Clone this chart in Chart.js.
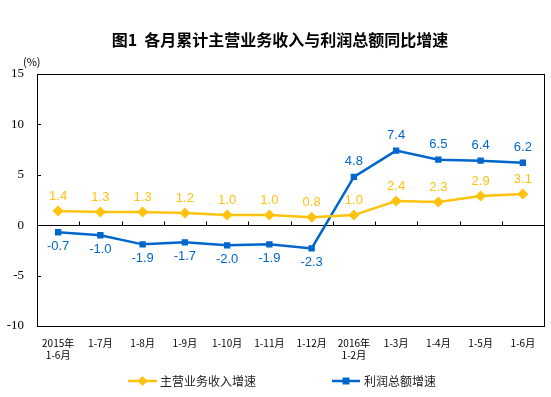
<!DOCTYPE html>
<html>
<head>
<meta charset="utf-8">
<script src="https://cdn.jsdelivr.net/npm/chart.js@4/dist/chart.umd.min.js"></script>
<style>
html,body{margin:0;padding:0;background:#fff;}
canvas{display:block;}
</style>
</head>
<body>
<canvas id="c" width="551" height="397"></canvas>
<script>
const chartTitle = '图1  各月累计主营业务收入与利润总额同比增速';
const unitLabel = '(%)';
const categories = [['2015年','1-6月'],'1-7月','1-8月','1-9月','1-10月','1-11月','1-12月',['2016年','1-2月'],'1-3月','1-4月','1-5月','1-6月'];
const seriesNames = ['主营业务收入增速','利润总额增速'];
const revenueGrowth = [1.4,1.3,1.3,1.2,1.0,1.0,0.8,1.0,2.4,2.3,2.9,3.1];
const profitGrowth = [-0.7,-1.0,-1.9,-1.7,-2.0,-1.9,-2.3,4.8,7.4,6.5,6.4,6.2];
const yTicks = [-10,-5,0,5,10,15];

const YELLOW = '#FFC20E';
const BLUE = '#0066CC';
const CJK = '"Noto Sans CJK SC", "Noto Sans", sans-serif';

const framePlugin = {
  id: 'frame',
  beforeDatasetsDraw(chart) {
    const {ctx, chartArea: a, scales} = chart;
    ctx.save();
    ctx.strokeStyle = '#000';
    ctx.lineWidth = 1;
    ctx.strokeRect(Math.round(a.left) + 0.5, Math.round(a.top) + 0.5, Math.round(a.right - a.left), Math.round(a.bottom - a.top));
    const y0 = Math.round(scales.y.getPixelForValue(0)) + 0.5;
    ctx.beginPath();
    ctx.moveTo(a.left, y0); ctx.lineTo(a.right, y0);
    const n = categories.length;
    for (let i = 1; i < n; i++) {
      const x = Math.round((scales.x.getPixelForValue(i - 1) + scales.x.getPixelForValue(i)) / 2) + 0.5;
      ctx.moveTo(x, y0); ctx.lineTo(x, y0 - 4);
    }
    yTicks.forEach(v => {
      const y = Math.round(scales.y.getPixelForValue(v)) + 0.5;
      ctx.moveTo(a.left, y); ctx.lineTo(a.left + 4, y);
    });
    ctx.stroke();
    ctx.restore();
  },
  afterDatasetsDraw(chart) {
    const {ctx} = chart;
    ctx.save();
    ctx.font = '13px "Liberation Sans", Arial, sans-serif';
    ctx.textAlign = 'center';
    ctx.textBaseline = 'middle';
    chart.data.datasets.forEach((ds, di) => {
      const meta = chart.getDatasetMeta(di);
      ctx.fillStyle = ds.borderColor;
      meta.data.forEach((pt, i) => {
        const v = ds.data[i];
        const off = v < 0 ? 14 : -15;
        ctx.fillText(v.toFixed(1), pt.x, pt.y + off);
      });
    });
    ctx.restore();
  },
  afterDraw(chart) {
    const {ctx} = chart;
    ctx.save();
    ctx.fillStyle = '#000';
    ctx.font = 'bold 16px ' + CJK;
    ctx.textAlign = 'center';
    ctx.textBaseline = 'middle';
    ctx.fillText(chartTitle, 280, 40);
    ctx.font = '11px ' + CJK;
    ctx.textAlign = 'left';
    ctx.fillText(unitLabel, 23, 62);
    const items = [
      {x0: 128, x1: 157, tx: 160, color: YELLOW, shape: 'diamond', name: seriesNames[0]},
      {x0: 332, x1: 360, tx: 364, color: BLUE, shape: 'square', name: seriesNames[1]}
    ];
    const ly = 381;
    ctx.font = '12px ' + CJK;
    ctx.textBaseline = 'middle';
    items.forEach(it => {
      ctx.strokeStyle = it.color;
      ctx.fillStyle = it.color;
      ctx.lineWidth = 2.5;
      ctx.beginPath(); ctx.moveTo(it.x0, ly); ctx.lineTo(it.x1, ly); ctx.stroke();
      const cx = (it.x0 + it.x1) / 2;
      ctx.beginPath();
      if (it.shape === 'diamond') {
        ctx.moveTo(cx, ly - 5); ctx.lineTo(cx + 5, ly); ctx.lineTo(cx, ly + 5); ctx.lineTo(cx - 5, ly);
      } else {
        ctx.rect(cx - 3.5, ly - 3.5, 7, 7);
      }
      ctx.fill();
      ctx.fillStyle = '#222';
      ctx.fillText(it.name, it.tx, ly);
    });
    ctx.restore();
  }
};

new Chart(document.getElementById('c'), {
  type: 'line',
  data: {
    labels: categories,
    datasets: [
      {label: seriesNames[0], data: revenueGrowth, borderColor: YELLOW, backgroundColor: YELLOW,
       borderWidth: 2.5, pointStyle: 'rectRot', pointRadius: 5.5, pointBorderWidth: 0, tension: 0},
      {label: seriesNames[1], data: profitGrowth, borderColor: BLUE, backgroundColor: BLUE,
       borderWidth: 2.5, pointStyle: 'rect', pointRadius: 4.5, pointBorderWidth: 0, tension: 0}
    ]
  },
  options: {
    responsive: false,
    devicePixelRatio: 1,
    animation: false,
    layout: {padding: {top: 74, right: 7, bottom: 0, left: 0}},
    plugins: {legend: {display: false}, title: {display: false}, tooltip: {enabled: false}},
    scales: {
      x: {
        offset: true,
        grid: {display: false, drawTicks: false, tickLength: 0},
        border: {display: false},
        ticks: {autoSkip: false, maxRotation: 0, minRotation: 0, padding: 11, color: '#000',
                font: {family: CJK, size: 10, lineHeight: 1.2}},
        afterFit(s) { s.height = 71; }
      },
      y: {
        min: -10, max: 15,
        grid: {display: false, drawTicks: false, tickLength: 0},
        border: {display: false},
        ticks: {stepSize: 5, padding: 13, color: '#000',
                font: {family: '"Liberation Serif", "Times New Roman", serif', size: 13}},
        afterFit(s) { s.width = 37; }
      }
    }
  },
  plugins: [framePlugin]
});
</script>
</body>
</html>
